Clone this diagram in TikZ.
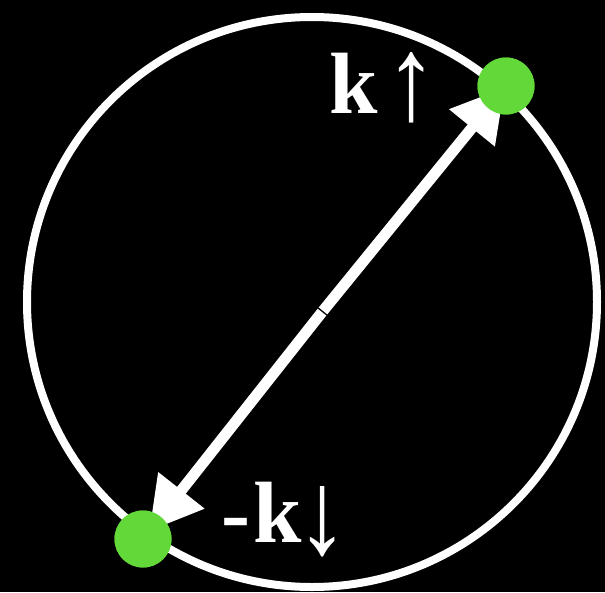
\documentclass[tikz,border=0pt]{standalone}
\usepackage{fontspec}
\setmainfont{Liberation Serif}
\newfontfamily\arrowfont{Liberation Sans}
\usetikzlibrary{arrows.meta}
\definecolor{dotgreen}{RGB}{98,216,57}
\newcommand{\tallarrow}[2]{{\arrowfont\raisebox{#2}{\scalebox{1.2}[1.37]{#1}}}}
\tikzset{
  ring/.style={draw=white, line width=8pt},
  dotnode/.style={circle, fill=dotgreen, minimum size=57pt, inner sep=0pt},
  bigarrow/.style={white, line width=11pt, shorten <=0.8pt,
    -{Triangle[length=52pt, width=56pt]}},
  lbl/.style={text=white, font=\fontsize{87}{87}\selectfont\bfseries, inner sep=0pt, anchor=base west}
}
\begin{document}
\begin{tikzpicture}[x=1pt, y=-1pt]
  \fill[black] (0,0) rectangle (605,592);
  \useasboundingbox (0,0) rectangle (605,592);
  \draw[ring] (312,302) circle[radius=285pt];
  \coordinate (c) at (322.5,311.5);
  \node[dotnode] (top) at (506,86) {};
  \node[dotnode] (bot) at (143,539) {};
  \draw[bigarrow, shorten >=2pt] (c) -- (top.center);
  \draw[bigarrow, shorten >=10pt] (c) -- (bot.center);
  \node[dotnode] at (top.center) {};
  \node[dotnode] at (bot.center) {};
  \node[lbl] (kup) at (329,113) {k\hspace{8pt}\tallarrow{↑}{-6pt}};
  \node[lbl] (kdown) at (221,542) {-\hspace{3pt}k\hspace{-5pt}\tallarrow{↓}{-11pt}};
\end{tikzpicture}
\end{document}
